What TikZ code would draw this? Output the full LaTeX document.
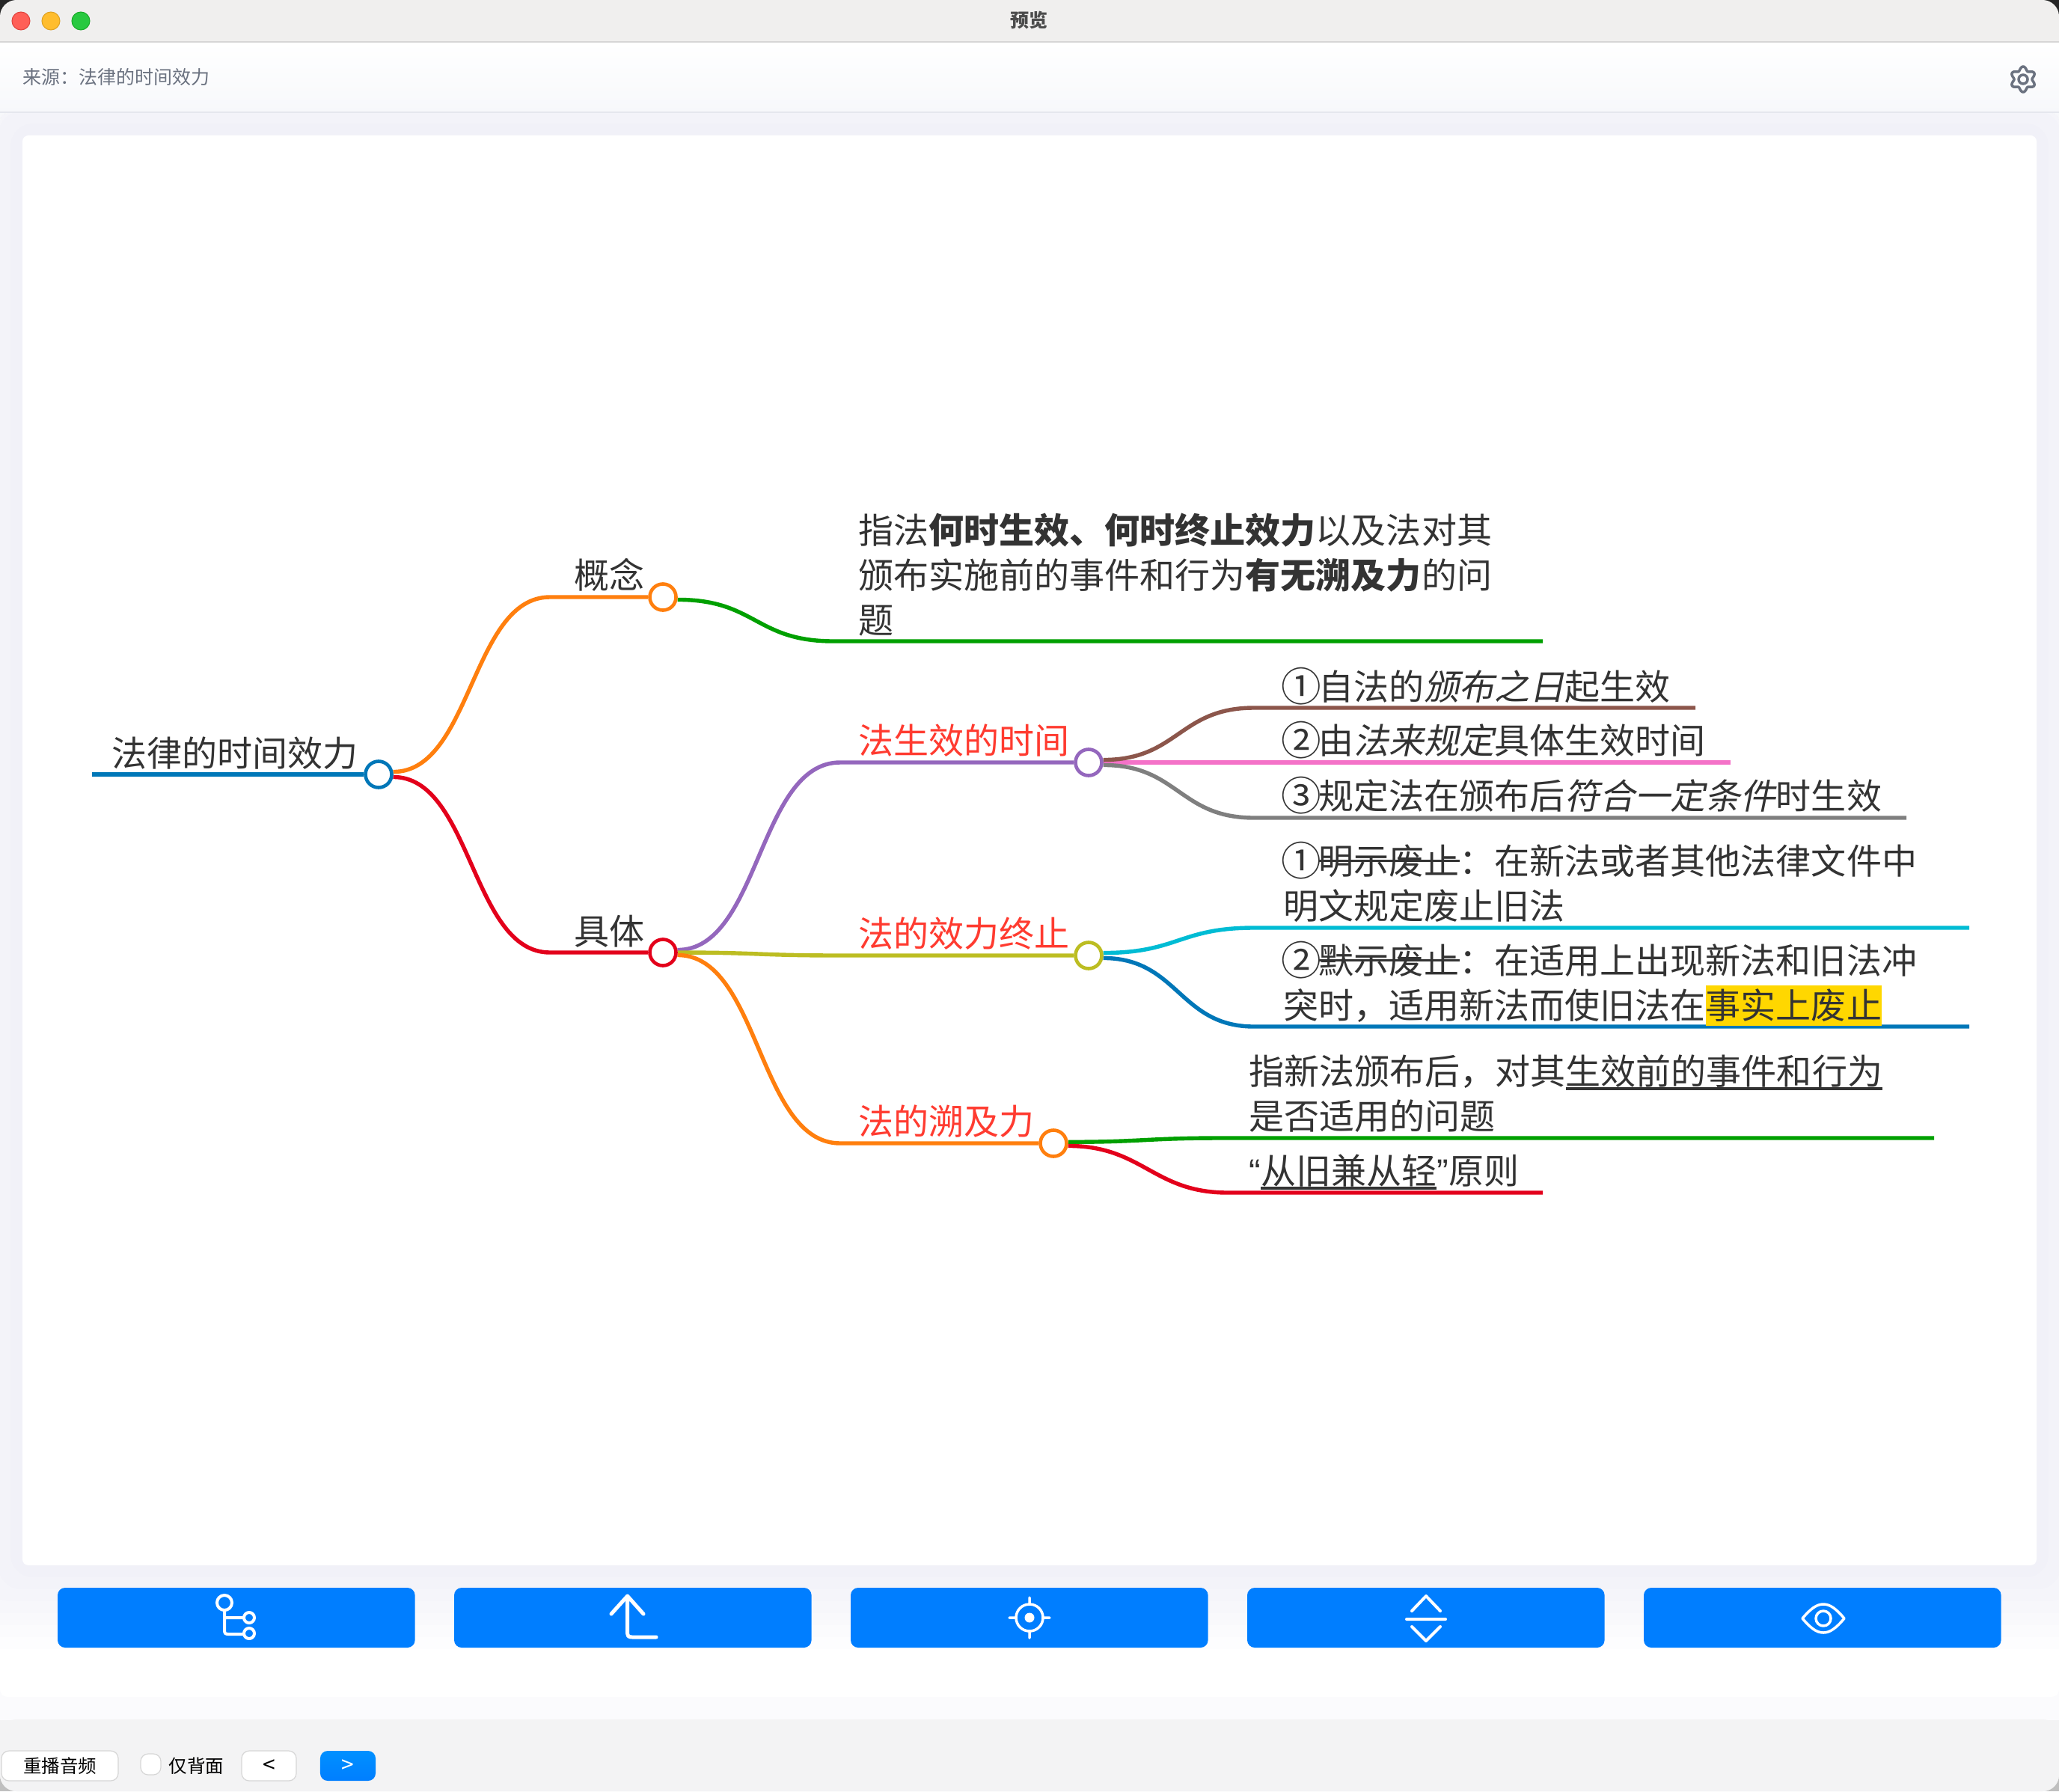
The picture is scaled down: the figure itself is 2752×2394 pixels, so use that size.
\documentclass[tikz,border=0pt]{standalone}
\usepackage{graphicx}
\usepackage{fontspec}
\setmainfont{Noto Sans CJK SC}[ItalicFont=Noto Sans CJK SC, ItalicFeatures={FakeSlant=0.2}]
\newfontfamily\quotefont{Liberation Sans}
\usetikzlibrary{backgrounds}

\definecolor{inkM}{HTML}{333333}
\definecolor{redM}{HTML}{FF3B30}
\definecolor{orangeM}{HTML}{FF7F0E}
\definecolor{crimsonM}{HTML}{E3001B}
\definecolor{blueM}{HTML}{0077B8}
\definecolor{greenM}{HTML}{00A000}
\definecolor{purpleM}{HTML}{9467BD}
\definecolor{oliveM}{HTML}{BCBD22}
\definecolor{brownM}{HTML}{8C564B}
\definecolor{pinkM}{HTML}{F472C8}
\definecolor{grayM}{HTML}{7F7F7F}
\definecolor{cyanM}{HTML}{00BCD4}
\definecolor{markM}{HTML}{FFD700}
\definecolor{btnM}{HTML}{007EFF}
\definecolor{btnTop}{HTML}{0090FF}
\definecolor{greyT}{HTML}{6B7280}
\definecolor{barM}{HTML}{F0EFEE}
\definecolor{footM}{HTML}{F3F3F4}
\definecolor{ruleM}{HTML}{E5E7EE}
\definecolor{shadeM}{HTML}{6070A0}
\definecolor{paneM}{HTML}{F7F8FB}

\newlength\wordw
\newcommand\lawnum[1]{\makebox[1em][c]{\raisebox{-.05em}{\scalebox{1.14}{#1}}}}
\newcommand\lawstrike[1]{\settowidth\wordw{#1}\rlap{\rule[.16cm]{\wordw}{.033cm}}#1}
\newcommand\lawunder[1]{\settowidth\wordw{#1}\rlap{\rule[-.08cm]{\wordw}{.04cm}}#1}
\newcommand\lawmark[1]{\settowidth\wordw{#1}\rlap{\textcolor{markM}{\rule[-.1cm]{\wordw}{.54cm}}}#1}

\tikzset{
	topic/.style={anchor=base west, inner sep=0pt, align=left, text=inkM,
		font=\fontsize{13.37}{16.93}\selectfont},
	head/.style={topic, text=redM},
	dot/.style={circle, draw=#1, fill=white, line width=.046cm, minimum size=.35cm, inner sep=0pt},
	link/.style={draw=#1, line width=.054cm},
	icon/.style={draw=white, line width=.04cm, line cap=round, line join=round},
	small/.style={inner sep=0pt, font=\fontsize{6.96}{8}\selectfont, text=black},
	btn/.style={fill=btnM, rounded corners=.1cm},
	pad/.style={fill=white, draw=black!16, line width=.012cm, rounded corners=.1cm}
}

\begin{document}
\begin{tikzpicture}[x=0.01cm, y=-0.01cm]
\useasboundingbox (0,0) rectangle (2752,2394);

% window
\begin{scope}[on background layer]
\fill[black!85] (0,0) rectangle (2752,40);
\fill[black!25] (0,2360) rectangle (2752,2394);
\fill[footM, rounded corners=.22cm] (0,20) rectangle (2752,2394);
\fill[barM, rounded corners=.22cm] (0,0) rectangle (2752,80);
\fill[top color=white, bottom color=paneM] (0,57) rectangle (2752,150);
\fill[top color=paneM, bottom color=white!50!paneM] (0,151) rectangle (2752,2298);
\fill[white, rounded corners=.1cm] (0,151) rectangle (2752,2268);
\begin{scope}
\clip[rounded corners=.1cm] (0,151) rectangle (2752,2268);
\foreach \r in {16,32,...,112}{
	\fill[shadeM, opacity=.008, rounded corners=.3cm] (30-\r,181-\r) rectangle (2722+\r,2092+\r);
}
\end{scope}
\fill[footM, rounded corners=.22cm] (0,2298) -- (2752,2298) -- (2752,2394) -- (0,2394) -- cycle;
\draw[black!16, line width=.012cm] (0,56) -- (2752,56);
\draw[ruleM, line width=.012cm] (0,150) -- (2752,150);
\fill[white, rounded corners=.08cm] (30,181) rectangle (2722,2092);
\end{scope}

\foreach \x/\col/\edge in {28/FF5F57/E0443E, 68/FFBD2E/DEA123, 108/28C940/1AAB29}{
	\definecolor{lampM}{HTML}{\col}
	\definecolor{lampE}{HTML}{\edge}
	\fill[lampM, draw=lampE, line width=.01cm] (\x,28) circle (12);
}
\node[inner sep=0pt, text=black!70, font=\fontsize{7.1}{8}\selectfont\bfseries] (winTitle) at (1375,27) {预览};
\node[anchor=base west, inner sep=0pt, text=greyT, font=\fontsize{7.1}{8}\selectfont] (source) at (30,113) {来源：法律的时间效力};

% gear
\draw[greyT, line width=.035cm, domain=0:360, samples=121, smooth] plot ({2704+(14.5-2.5*cos(6*\x))*cos(\x)}, {106+(14.5-2.5*cos(6*\x))*sin(\x)}) -- cycle;
\draw[greyT, line width=.035cm] (2704,106) circle (6);

% the map
\node[dot=blueM] (rootDot) at (506,1035) {};
\node[dot=orangeM] (conceptDot) at (886,798) {};
\node[dot=crimsonM] (bodyDot) at (886,1273) {};
\node[dot=purpleM] (timeDot) at (1455,1019) {};
\node[dot=oliveM] (stopDot) at (1455,1277) {};
\node[dot=orangeM] (backDot) at (1408,1528) {};

\node[topic] (rootText) at (149,1024) {法律的时间效力};
\node[topic] (conceptText) at (767,786) {概念};
\node[topic] (bodyText) at (767,1262) {具体};
\node[topic] (paraText) at (1147,846) {指法\textbf{何时生效、何时终止效力}以及法对其\\颁布实施前的事件和行为\textbf{有无溯及力}的问\\题};
\node[head] (timeText) at (1147,1007) {法生效的时间};
\node[head] (stopText) at (1147,1265) {法的效力终止};
\node[head] (backText) at (1147,1516) {法的溯及力};
\node[topic] (dayText) at (1715,935) {\lawnum{①}自法的\textit{颁布之日}起生效};
\node[topic] (lawText) at (1715,1007) {\lawnum{②}由\textit{法来规定}具体生效时间};
\node[topic] (termText) at (1715,1081) {\lawnum{③}规定法在颁布后\textit{符合一定条件}时生效};
\node[topic] (openText) at (1715,1228) {\lawnum{①}\lawstrike{明示废止}：在新法或者其他法律文件中\\明文规定废止旧法};
\node[topic] (tacitText) at (1715,1361) {\lawnum{②}\lawstrike{默示废止}：在适用上出现新法和旧法冲\\突时，适用新法而使旧法在\lawmark{事实上废止}};
\node[topic] (newText) at (1669,1509) {指新法颁布后，对其\lawunder{生效前的事件和行为}\\是否适用的问题};
\node[topic] (ruleText) at (1669,1582) {{\quotefont “}\lawunder{从旧兼从轻}{\quotefont ”}原则};

\coordinate (conceptVia) at (735,798);
\coordinate (bodyVia) at (735,1273);
\coordinate (paraVia) at (1114,857);
\coordinate (paraEnd) at (2062,857);
\coordinate (timeVia) at (1123,1019);
\coordinate (stopVia) at (1123,1277);
\coordinate (backVia) at (1123,1528);
\coordinate (dayVia) at (1676,946);
\coordinate (dayEnd) at (2266,946);
\coordinate (termVia) at (1676,1093);
\coordinate (termEnd) at (2548,1093);
\coordinate (openVia) at (1676,1240);
\coordinate (openEnd) at (2632,1240);
\coordinate (tacitVia) at (1676,1372);
\coordinate (tacitEnd) at (2632,1372);
\coordinate (newVia) at (1632,1521);
\coordinate (newEnd) at (2585,1521);
\coordinate (ruleVia) at (1641,1594);
\coordinate (ruleEnd) at (2062,1594);
\coordinate (rootStart) at (123,1035);
\coordinate (lawEnd) at (2313,1019);

\begin{scope}[on background layer]
\draw[link=blueM] (rootStart) -- (rootDot);
\draw[link=pinkM] (timeDot) -- (lawEnd);
\foreach \from/\ang/\via/\aim/\col/\dx in {
	rootDot/10/conceptVia/conceptDot/orangeM/105,
	rootDot/-10/bodyVia/bodyDot/crimsonM/105,
	conceptDot/-10/paraVia/paraEnd/greenM/105,
	bodyDot/10/timeVia/timeDot/purpleM/110,
	bodyDot/0/stopVia/stopDot/oliveM/110,
	bodyDot/-10/backVia/backDot/orangeM/110,
	timeDot/10/dayVia/dayEnd/brownM/100,
	timeDot/-10/termVia/termEnd/grayM/100,
	stopDot/10/openVia/openEnd/cyanM/100,
	stopDot/-10/tacitVia/tacitEnd/blueM/100,
	backDot/5/newVia/newEnd/greenM/100,
	backDot/-10/ruleVia/ruleEnd/crimsonM/100}{
	\draw[link=\col] (\from.\ang) .. controls +(\dx,0) and +(-\dx,0) .. (\via) -- (\aim);
}
\end{scope}

% tool buttons
\foreach \x in {77,607,1137,1667,2197}{
	\fill[btn] (\x,2122) rectangle +(477.6,80);
}
\draw[icon] (300,2142) circle (10) (333,2162) circle (7) (333,2183) circle (7);
\draw[icon] (300,2152) -- (300,2176) .. controls (300,2184) .. (308,2184) -- (326,2184) (300,2162) -- (326,2162);
\draw[icon, line width=.05cm] (817,2157) -- (838.6,2133) -- (860,2157) (838.6,2133) -- (838.6,2178) .. controls (838.6,2188) .. (848,2188) -- (877,2188);
\draw[icon, line width=.035cm] (1376,2162) circle (18) (1376,2135) -- (1376,2144) (1376,2180) -- (1376,2189) (1349,2162) -- (1358,2162) (1394,2162) -- (1403,2162);
\fill[white] (1376,2162) circle (6.5);
\draw[icon] (1887,2153) -- (1906,2133) -- (1925,2153) (1880,2164) -- (1932,2164) (1887,2174) -- (1906,2193) -- (1925,2174);
\draw[icon, line width=.035cm] (2409,2163) .. controls (2420,2150) and (2428,2144) .. (2437,2144) .. controls (2446,2144) and (2454,2150) .. (2465,2163) .. controls (2454,2176) and (2446,2182) .. (2437,2182) .. controls (2428,2182) and (2420,2176) .. (2409,2163) -- cycle (2437,2163) circle (10);

% bottom bar
\node[pad, minimum width=1.56cm, minimum height=.4cm, small] (replayBtn) at (80,2360) {重播音频};
\node[pad, minimum width=.27cm, minimum height=.28cm, inner sep=0pt] (onlyBack) at (201.5,2358) {};
\node[small, anchor=west] (onlyBackText) at (225,2360) {仅背面};
\node[pad, minimum width=.73cm, minimum height=.4cm, small, font=\fontsize{8.5}{9}\selectfont, text height=.2cm, text depth=.02cm] (prevBtn) at (359.5,2360) {<};
\node[minimum width=.74cm, minimum height=.4cm, inner sep=0pt, rounded corners=.1cm, top color=btnTop, bottom color=btnM, small, font=\fontsize{8.5}{9}\selectfont, text=white, text height=.2cm, text depth=.02cm] (nextBtn) at (465,2360) {>};
\end{tikzpicture}
\end{document}
